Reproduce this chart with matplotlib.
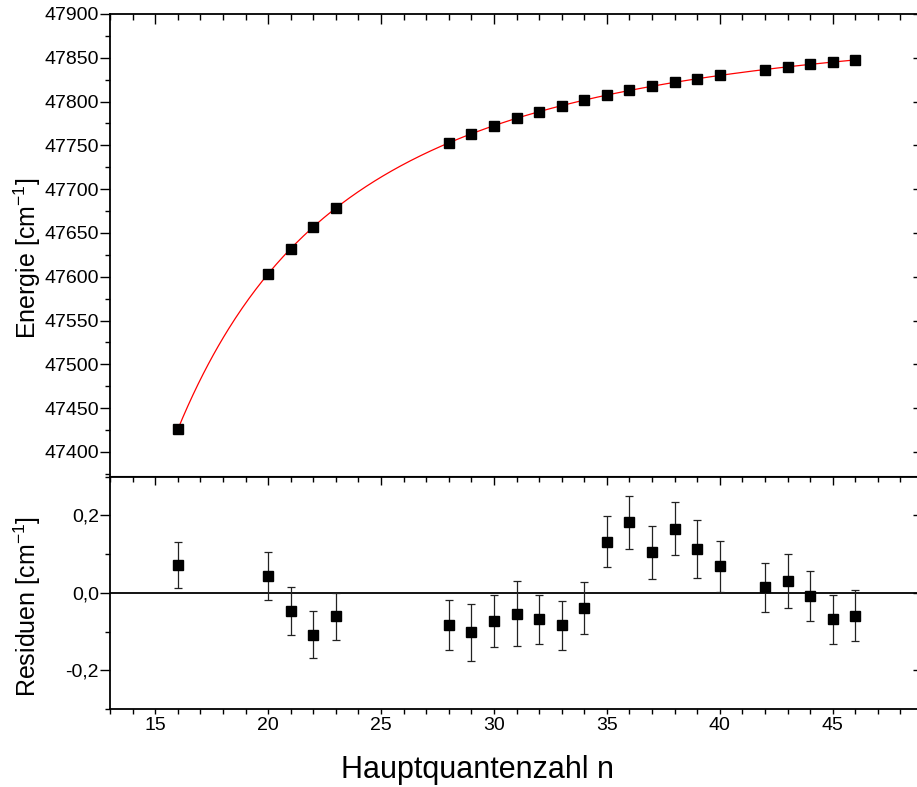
import numpy as np
import matplotlib
matplotlib.use('Agg')
import matplotlib.pyplot as plt
from matplotlib.ticker import MultipleLocator, FuncFormatter

plt.rcParams['font.family'] = ['Liberation Sans', 'DejaVu Sans']
plt.rcParams['mathtext.default'] = 'regular'

# data
n = [16, 20, 21, 22, 23, 28, 29, 30, 31, 32, 33, 34, 35, 36, 37, 38, 39, 40,
     42, 43, 44, 45, 46]
energie = [47425.7, 47603.3, 47632.1, 47656.9, 47678.4, 47752.9, 47763.2,
           47772.5, 47780.9, 47788.5, 47795.4, 47801.7, 47807.4, 47812.7,
           47817.5, 47822.0, 47826.1, 47829.9, 47836.6, 47839.7, 47842.5,
           47845.1, 47847.6]
residuen = [0.071, 0.043, -0.047, -0.108, -0.061, -0.084, -0.102, -0.073,
            -0.054, -0.069, -0.084, -0.040, 0.132, 0.182, 0.104, 0.165,
            0.113, 0.068, 0.014, 0.030, -0.009, -0.069, -0.059]
fehler = [0.060, 0.062, 0.063, 0.061, 0.061, 0.065, 0.073, 0.067, 0.084,
          0.064, 0.064, 0.067, 0.066, 0.068, 0.069, 0.068, 0.076, 0.066,
          0.063, 0.070, 0.065, 0.063, 0.066]

# Rydberg fit E = IP - R/(n-delta)^2 (grid search over delta)
R = 109737.0
n_arr = np.array(n, dtype=float)
e_arr = np.array(energie)
best = None
for d in np.linspace(0.0, 2.0, 2001):
    ip = np.mean(e_arr + R / (n_arr - d) ** 2)
    err = np.sum((e_arr - (ip - R / (n_arr - d) ** 2)) ** 2)
    if best is None or err < best[0]:
        best = (err, ip, d)
_, ip_fit, delta_fit = best
n_fit = np.linspace(min(n), max(n), 400)
e_fit = ip_fit - R / (n_fit - delta_fit) ** 2

W, H = 917, 787
fig = plt.figure(figsize=(W / 100, H / 100), dpi=100)
x0, x1 = 110 / W, 918.5 / W
ax1 = fig.add_axes([x0, (H - 476.5) / H, x1 - x0, (476.5 - 14) / H])
ax2 = fig.add_axes([x0, (H - 709) / H, x1 - x0, (709 - 476.5) / H])

for ax in (ax1, ax2):
    for s in ax.spines.values():
        s.set_linewidth(1.3)
    ax.set_xlim(13, 48.8)
    ax.xaxis.set_major_locator(MultipleLocator(5))
    ax.xaxis.set_minor_locator(MultipleLocator(1))

# top panel
ax1.plot(n_fit, e_fit, color='red', lw=0.9, zorder=2)
ax1.plot(n, energie, 's', color='black', ms=7.2, zorder=3)
ax1.set_ylim(47372, 47900)
ax1.yaxis.set_major_locator(MultipleLocator(50))
ax1.yaxis.set_minor_locator(MultipleLocator(25))
ax1.tick_params(axis='x', which='both', bottom=False, top=True,
                labelbottom=False, direction='in', width=1)
ax1.tick_params(axis='x', which='major', length=7)
ax1.tick_params(axis='x', which='minor', length=4.5)
ax1.tick_params(axis='y', which='both', right=False, direction='out',
                width=1, labelsize=14, pad=1)
ax1.tick_params(axis='y', which='major', length=7)
ax1.tick_params(axis='y', which='minor', length=3.5)
r1 = ax1.secondary_yaxis('right')
r1.yaxis.set_major_locator(MultipleLocator(50))
r1.tick_params(direction='in', length=4, width=1, labelright=False)

# bottom panel
ax2.axhline(0, color='black', lw=1.3, zorder=1)
ax2.errorbar(n, residuen, yerr=fehler, fmt='s', color='black', ms=7.2,
             ecolor='#222222', elinewidth=0.9, capsize=3, capthick=0.9,
             zorder=3)
ax2.set_ylim(-0.3, 0.3)
ax2.yaxis.set_major_locator(MultipleLocator(0.2))
ax2.yaxis.set_minor_locator(MultipleLocator(0.1))
ax2.yaxis.set_major_formatter(
    FuncFormatter(lambda v, p: ('%.1f' % v).replace('.', ',').replace('-0,0', '0,0')))
ax2.tick_params(axis='x', which='both', top=False, direction='out',
                width=1, labelsize=14, pad=2, length=3.5)
ax2.tick_params(axis='y', which='both', right=False, direction='out',
                width=1, labelsize=14, pad=1)
ax2.tick_params(axis='y', which='major', length=7)
ax2.tick_params(axis='y', which='minor', length=3.5)
t2 = ax2.secondary_xaxis('top')
t2.xaxis.set_major_locator(MultipleLocator(5))
t2.xaxis.set_minor_locator(MultipleLocator(1))
t2.tick_params(which='both', direction='in', width=1, labeltop=False)
t2.tick_params(which='major', length=6.5)
t2.tick_params(which='minor', length=4)
r2 = ax2.secondary_yaxis('right')
r2.yaxis.set_major_locator(MultipleLocator(0.2))
r2.tick_params(direction='in', length=4, width=1, labelright=False)

fig.text(27 / W, 1 - 258 / H, 'Energie [cm$^{-1}$]', rotation=90,
         ha='center', va='center', fontsize=18)
fig.text(27 / W, 1 - 607 / H, 'Residuen [cm$^{-1}$]', rotation=90,
         ha='center', va='center', fontsize=18)
fig.text(478 / W, 1 - 778 / H, 'Hauptquantenzahl n', ha='center',
         va='baseline', fontsize=22)

fig.savefig('out.png', dpi=100)
